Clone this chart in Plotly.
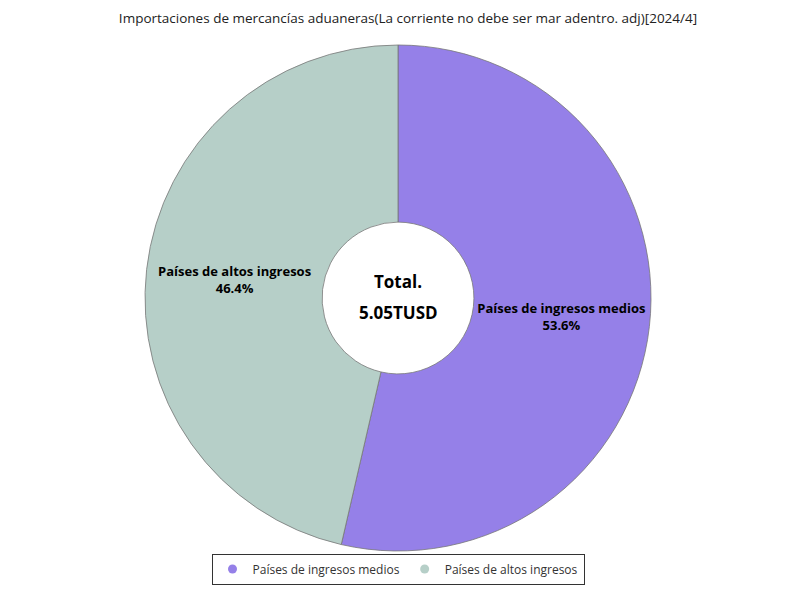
import plotly.graph_objects as go

# data
labels = ["Países de ingresos medios", "Países de altos ingresos"]
values = [53.6, 46.4]
colors = ["#9580E8", "#B6CFC8"]
total_label = "Total."
total_value = "5.05TUSD"
title_text = "Importaciones de mercancías aduaneras(La corriente no debe ser mar adentro. adj)[2024/4]"

fig = go.Figure()
fig.add_trace(go.Pie(
    labels=labels,
    values=values,
    hole=0.3,
    sort=False,
    direction="clockwise",
    rotation=0,
    marker=dict(colors=colors, line=dict(color="#777777", width=0.8)),
    texttemplate="<b>%{label}</b><br><b>%{percent:.1%}</b>",
    textposition="inside",
    insidetextorientation="horizontal",
    textfont=dict(size=13, color="black"),
    hoverinfo="label+percent",
    showlegend=False,
))

# legend entries with round markers
for lab, col in zip(labels, colors):
    fig.add_trace(go.Scatter(
        x=[None], y=[None], mode="markers", name=lab,
        marker=dict(symbol="circle", size=9, color=col),
    ))

fig.add_annotation(text="<b>" + total_label + "</b>", x=0.5, y=0.5,
                   xref="paper", yref="paper", yshift=17, showarrow=False,
                   font=dict(size=17, color="black"))
fig.add_annotation(text="<b>" + total_value + "</b>", x=0.5, y=0.5,
                   xref="paper", yref="paper", yshift=-14, showarrow=False,
                   font=dict(size=17, color="black"))

fig.update_layout(
    title=dict(text=title_text, x=0.5, xanchor="center", y=0.99,
               font=dict(size=13.5, color="#222222")),
    font=dict(family="Open Sans, Noto Sans, sans-serif"),
    width=800, height=600,
    margin=dict(l=30, r=50, t=37, b=57),
    paper_bgcolor="white",
    plot_bgcolor="white",
    xaxis=dict(visible=False),
    yaxis=dict(visible=False),
    legend=dict(
        orientation="h", x=0.5, xanchor="center", y=-0.005, yanchor="top",
        bordercolor="#333333", borderwidth=1, itemwidth=30,
        font=dict(size=12, color="#333333"),
    ),
)

fig.write_html("out.html")
